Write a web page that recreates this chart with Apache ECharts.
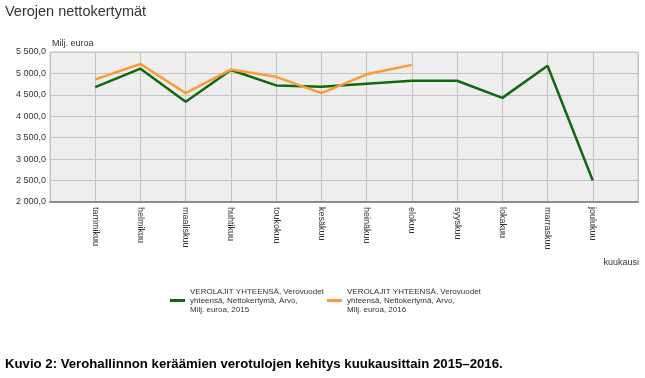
<!DOCTYPE html>
<html><head><meta charset="utf-8">
<script src="https://cdn.jsdelivr.net/npm/echarts@6/dist/echarts.min.js"></script>
<style>html,body{margin:0;padding:0;background:#fff}#c{width:645px;height:378px}</style>
</head><body><div id="c"></div>
<script>
const months = ['tammikuu','helmikuu','maaliskuu','huhtikuu','toukokuu','kesäkuu','heinäkuu','elokuu','syyskuu','lokakuu','marraskuu','joulukuu'];
const values2015 = [4680, 5110, 4340, 5080, 4720, 4690, 4760, 4830, 4830, 4430, 5180, 2500];
const values2016 = [4860, 5220, 4540, 5090, 4920, 4540, 4980, 5200];
const name2015 = 'VEROLAJIT YHTEENSÄ, Verovuodet\nyhteensä, Nettokertymä, Arvo,\nMilj. euroa, 2015';
const name2016 = 'VEROLAJIT YHTEENSÄ, Verovuodet\nyhteensä, Nettokertymä, Arvo,\nMilj. euroa, 2016';
const yTicks = [2000, 2500, 3000, 3500, 4000, 4500, 5000, 5500];

const cats = [''].concat(months, ['']);
const s2015 = [null].concat(values2015);
const s2016 = [null].concat(values2016);

function fmt(v){
  const s = Math.round(v).toString();
  const t = s.replace(/\B(?=(\d{3})+(?!\d))/g, ' ');
  return t + ',0';
}
const font = 'Arial, "Liberation Sans", sans-serif';
const chart = echarts.init(document.getElementById('c'), null, {renderer:'canvas'});
chart.setOption({
  animation: false,
  backgroundColor: '#fff',
  textStyle: {fontFamily: font},
  grid: {left: 50, right: 7, top: 52, bottom: 176, show: true, backgroundColor: '#eeeeee', borderColor: '#c4c4c4', borderWidth: 1},
  xAxis: {
    type: 'category', data: cats, boundaryGap: false,
    axisLine: {show: true, lineStyle: {color: '#8c8c8c', width: 2}},
    axisTick: {show: false},
    splitLine: {show: true, lineStyle: {color: '#c4c4c4', width: 1}},
    axisLabel: {rotate: -90, fontSize: 9, color: '#333', fontFamily: font, margin: 5, interval: 0}
  },
  yAxis: {
    type: 'value', min: yTicks[0], max: yTicks[yTicks.length-1], interval: 500,
    axisLine: {show: false}, axisTick: {show: false},
    splitLine: {show: true, lineStyle: {color: '#c4c4c4', width: 1}},
    axisLabel: {fontSize: 9, color: '#333', fontFamily: font, margin: 4, formatter: fmt}
  },
  legend: [
    {left: 170, top: 287, padding: 0, icon: 'rect', itemWidth: 15, itemHeight: 3, itemGap: 0, data: [name2015],
     textStyle: {fontSize: 8, lineHeight: 9, color: '#333', fontFamily: font}},
    {left: 327, top: 287, padding: 0, icon: 'rect', itemWidth: 15, itemHeight: 3, itemGap: 0, data: [name2016],
     textStyle: {fontSize: 8, lineHeight: 9, color: '#333', fontFamily: font}}
  ],
  series: [
    {name: name2015, type: 'line', data: s2015, showSymbol: false, symbol: 'none', lineStyle: {color: '#0d6b0d', width: 2.5}, itemStyle: {color: '#0d6b0d'}},
    {name: name2016, type: 'line', data: s2016, showSymbol: false, symbol: 'none', lineStyle: {color: '#ff9933', width: 2.5}, itemStyle: {color: '#ff9933'}}
  ],
  graphic: [
    {type: 'text', left: 5, top: 4, style: {text: 'Verojen nettokertymät', fontSize: 14.5, fill: '#333', fontFamily: font}},
    {type: 'text', left: 52, top: 39, style: {text: 'Milj. euroa', fontSize: 9, fill: '#333', fontFamily: font}},
    {type: 'text', right: 6, top: 258, style: {text: 'kuukausi', fontSize: 9, fill: '#333', fontFamily: font}},
    {type: 'text', left: 5, top: 358, style: {text: 'Kuvio 2: Verohallinnon keräämien verotulojen kehitys kuukausittain 2015–2016.', fontSize: 13.2, fontWeight: 'bold', fill: '#000', fontFamily: font}}
  ]
});
</script></body></html>
